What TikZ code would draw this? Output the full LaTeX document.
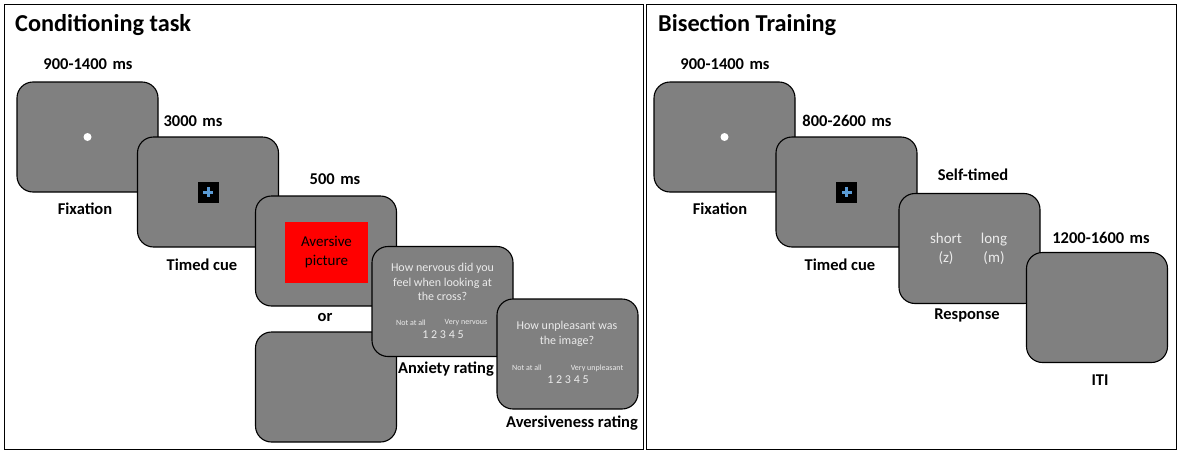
\documentclass[tikz,border=0pt]{standalone}
\usepackage{fontspec}
\setmainfont{Carlito}
\begin{document}
\begin{tikzpicture}[x={(1pt,0)},y={(0,-1pt)},
  panel/.style={draw=black,line width=0.9pt},
  screen/.style={draw=black,line width=1.1pt,fill=scrgray,rounded corners=16pt,minimum width=141pt,minimum height=110pt,inner sep=0pt},
  lbl/.style={font=\bfseries\fontsize{16.5}{19}\selectfont,inner sep=0pt},
  ttl/.style={font=\bfseries\fontsize{24.3}{28}\selectfont,inner sep=0pt,anchor=west},
  qtxt/.style={text=qcol,font=\fontsize{12}{14.5}\selectfont,align=center,inner sep=0pt},
  tiny/.style={text=qcol,font=\fontsize{8}{9}\selectfont,inner sep=0pt},
  nums/.style={text=qcol,font=\fontsize{12}{13}\selectfont,inner sep=0pt},
  cuebox/.style={fill=black,minimum size=21pt,inner sep=0pt},
  dot/.style={circle,fill=white,minimum size=8pt,inner sep=0pt}
]
\definecolor{scrgray}{RGB}{128,128,128}
\definecolor{qcol}{RGB}{235,235,235}
\definecolor{crossblue}{RGB}{91,155,213}
\newcommand{\ms}{\hspace{0.33em}ms}
\useasboundingbox (0,0) rectangle (1180,450);
\fill[white] (0,0) rectangle (1180,450);
% panels
\draw[panel] (4.5,4.5) rectangle (643.5,449.5);
\draw[panel] (646.5,4.5) rectangle (1176.5,449.5);
\node[ttl] (t1) at (15,25) {Conditioning task};
\node[ttl] (t2) at (658,25) {Bisection Training};

% ---------- Conditioning task ----------
\node[screen] (cfix) at (87.5,137) {};
\node[dot] (cdot) at (cfix.center) {};
\node[lbl] (l1) at (88,64) {900-1400\ms};
\node[lbl] (l2) at (85,209) {Fixation};

\node[screen] (ccue) at (208,192) {};
\node[cuebox] (cbox) at (ccue.center) {};
\fill[crossblue] ([xshift=-1.5pt,yshift=-5pt]cbox.center) rectangle ([xshift=1.5pt,yshift=5pt]cbox.center);
\fill[crossblue] ([xshift=-5pt,yshift=-1.5pt]cbox.center) rectangle ([xshift=5pt,yshift=1.5pt]cbox.center);
\node[lbl] (l3) at (193,121) {3000\ms};
\node[lbl] (l4) at (202,265) {Timed cue};

\node[screen] (cav) at (326,251) {};
\node[fill=red,minimum width=83pt,minimum height=61pt,inner sep=0pt,align=center,font=\fontsize{15}{19}\selectfont] (red) at (326.5,252.5) {Aversive\\picture};
\node[lbl] (l5) at (335,179) {500\ms};
\node[lbl] (l6) at (325,317) {or};

\node[screen] (cblank) at (326,387) {};

\node[screen] (canx) at (442.5,301.5) {};
\node[qtxt] (q1) at (442.5,282) {How nervous did you\\feel when looking at\\the cross?};
\node[tiny] (n1) at (411,323) {Not at all};
\node[tiny] (v1) at (466,323) {Very nervous};
\node[nums] (k1) at (443,335) {1 2 3 4 5};
\node[lbl] (l7) at (446,369) {Anxiety rating};

\node[screen] (cavr) at (567.5,354) {};
\node[qtxt] (q2) at (567,334) {How unpleasant was\\the image?};
\node[tiny] (n2) at (527,368) {Not at all};
\node[tiny] (v2) at (597,368) {Very unpleasant};
\node[nums] (k2) at (568,380) {1 2 3 4 5};
\node[lbl] (l8) at (572,423) {Aversiveness rating};

% ---------- Bisection training ----------
\node[screen] (bfix) at (724.5,137) {};
\node[dot] (bdot) at (bfix.center) {};
\node[lbl] (m1) at (725,64) {900-1400\ms};
\node[lbl] (m2) at (720,209) {Fixation};

\node[screen] (bcue) at (846.5,192) {};
\node[cuebox] (bbox) at (bcue.center) {};
\fill[crossblue] ([xshift=-1.5pt,yshift=-5pt]bbox.center) rectangle ([xshift=1.5pt,yshift=5pt]bbox.center);
\fill[crossblue] ([xshift=-5pt,yshift=-1.5pt]bbox.center) rectangle ([xshift=5pt,yshift=1.5pt]bbox.center);
\node[lbl] (m3) at (847,121) {800-2600\ms};
\node[lbl] (m4) at (840,265) {Timed cue};

\node[screen] (bresp) at (969.5,248.5) {};
\node[qtxt,font=\fontsize{15}{19.5}\selectfont] (s1) at (946,249) {short\\(z)};
\node[qtxt,font=\fontsize{15}{19.5}\selectfont] (s2) at (994,249) {long\\(m)};
\node[lbl] (m5) at (973,175) {Self-timed};
\node[lbl] (m6) at (967,315) {Response};

\node[screen] (biti) at (1097,307.5) {};
\node[lbl] (m7) at (1101,238) {1200-1600\ms};
\node[lbl] (m8) at (1100,380) {ITI};
\end{tikzpicture}
\end{document}
